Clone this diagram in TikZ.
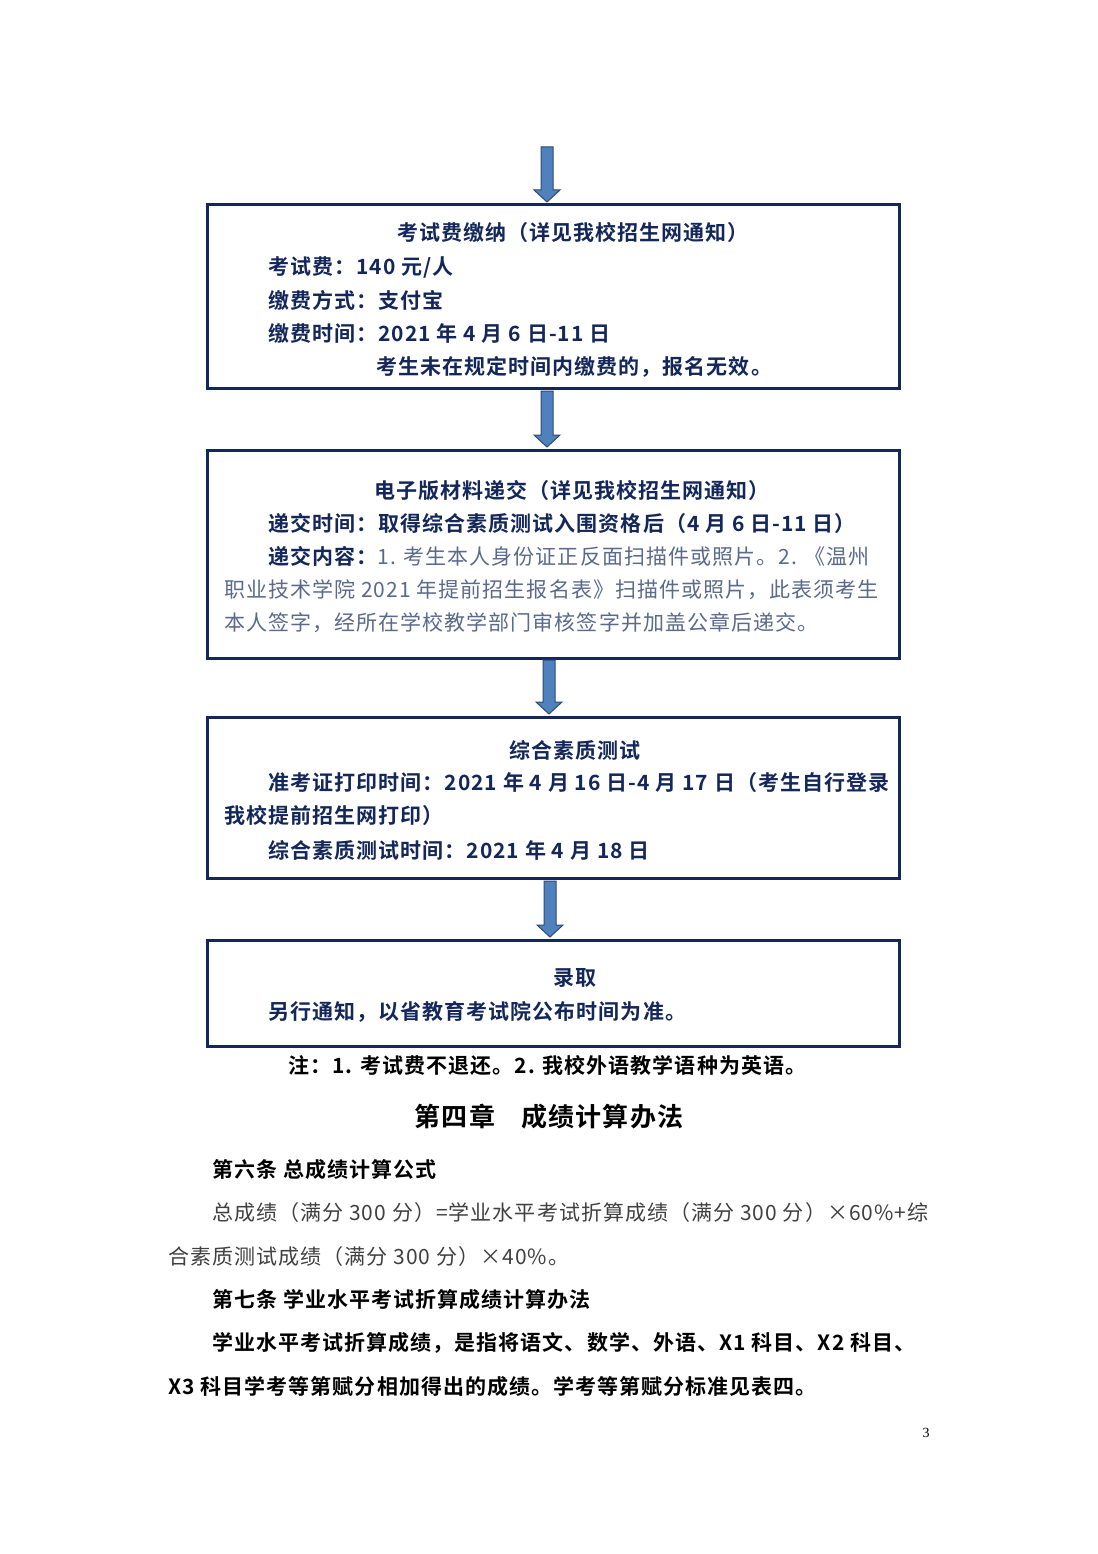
\documentclass[tikz,border=0pt]{standalone}
\usepackage{fontspec}
\setmainfont{Liberation Serif}
\newfontfamily\cjk[LetterSpace=5]{Noto Sans CJK SC}
\newfontfamily\cjkb[LetterSpace=5]{Noto Sans CJK SC Bold}
\usetikzlibrary{calc}
\definecolor{navy}{HTML}{14275A}
\definecolor{grayblue}{HTML}{5A6A8A}
\definecolor{arrfill}{HTML}{4F81BD}
\definecolor{arrline}{HTML}{2E4A75}
\begin{document}
\begin{tikzpicture}[x=1pt,y=-1pt,
  box/.style={draw=navy,line width=3pt,minimum width=692pt,inner sep=0pt},
  bt/.style={font=\fontsize{21}{24}\selectfont\cjkb,text=navy,inner sep=0pt},
  gt/.style={font=\fontsize{21}{24}\selectfont\cjk,text=grayblue,inner sep=0pt},
  tb/.style={font=\fontsize{21}{24}\selectfont\cjkb,text=black,inner sep=0pt},
  tg/.style={font=\fontsize{21}{24}\selectfont\cjk,text=black!75,inner sep=0pt},
  fat/.style={fill=arrfill,draw=arrline,line width=1pt}]
\useasboundingbox[fill=white] (0,0) rectangle (1097,1554);
\node[box,minimum height=183pt] (b1) at (553,296.5) {};
\node[box,minimum height=208pt] (b2) at (553,554) {};
\node[box,minimum height=161pt] (b3) at (553,797.5) {};
\node[box,minimum height=106pt] (b4) at (553,993) {};
\coordinate (top) at (547,147);
\newcommand\fatarrow[2]{\path[fat] ($(#1)+(-6,0)$) -- ($(#2)+(-6,-12)$) -- ($(#2)+(-13,-12)$) -- (#2) -- ($(#2)+(13,-12)$) -- ($(#2)+(6,-12)$) -- ($(#1)+(6,0)$) -- cycle;}
\coordinate (a1e) at (547,202);
\coordinate (a2s) at (547,391); \coordinate (a2e) at (547,447);
\coordinate (a3s) at (549,660); \coordinate (a3e) at (549,714);
\coordinate (a4s) at (550,881); \coordinate (a4e) at (550,937);
\fatarrow{top}{a1e}
\fatarrow{a2s}{a2e}
\fatarrow{a3s}{a3e}
\fatarrow{a4s}{a4e}
% box 1
\node[bt] (t11) at (573,233) {考试费缴纳（详见我校招生网通知）};
\node[bt,anchor=west] (t12) at (268,267) {考试费：140 元/人};
\node[bt,anchor=west] (t13) at (268,300) {缴费方式：支付宝};
\node[bt,anchor=west] (t14) at (268,333) {缴费时间：2021 年 4 月 6 日-11 日};
\node[bt,anchor=west] (t15) at (376,367) {考生未在规定时间内缴费的，报名无效。};
% box 2
\node[bt] (t21) at (572,490) {电子版材料递交（详见我校招生网通知）};
\node[bt,anchor=west] (t22) at (268,523) {递交时间：取得综合素质测试入围资格后（4 月 6 日-11 日）};
\node[anchor=west,inner sep=0pt] (t23) at (268,556) {\textcolor{navy}{\fontsize{21}{24}\selectfont\cjkb 递交内容：}{\fontsize{21}{24}\selectfont\cjk\color{grayblue}1. 考生本人身份证正反面扫描件或照片。2. 《温州}};
\node[gt,anchor=west] (t24) at (224,590) {职业技术学院 2021 年提前招生报名表》扫描件或照片，此表须考生};
\node[gt,anchor=west] (t25) at (224,623) {本人签字，经所在学校教学部门审核签字并加盖公章后递交。};
% box 3
\node[bt] (t31) at (575,750) {综合素质测试};
\node[bt,anchor=west] (t32) at (268,783) {准考证打印时间：2021 年 4 月 16 日-4 月 17 日（考生自行登录};
\node[bt,anchor=west] (t33) at (224,816) {我校提前招生网打印）};
\node[bt,anchor=west] (t34) at (268,850) {综合素质测试时间：2021 年 4 月 18 日};
% box 4
\node[bt] (t41) at (575,978) {录取};
\node[bt,anchor=west] (t42) at (268,1012) {另行通知，以省教育考试院公布时间为准。};
% below
\node[tb,anchor=west] (n1) at (288,1065) {注：1. 考试费不退还。2. 我校外语教学语种为英语。};
\node[font=\fontsize{26}{30}\selectfont\cjkb,inner sep=0pt] (h) at (549,1117) {第四章\quad 成绩计算办法};
\node[tb,anchor=west] (p1) at (212,1170) {第六条\ 总成绩计算公式};
\node[tg,anchor=west] (p2) at (212,1213) {总成绩（满分 300 分）=学业水平考试折算成绩（满分 300 分）×60\%+综};
\node[tg,anchor=west] (p3) at (168,1257) {合素质测试成绩（满分 300 分）×40\%。};
\node[tb,anchor=west] (p4) at (212,1300) {第七条\ 学业水平考试折算成绩计算办法};
\node[tb,anchor=west] (p5) at (212,1343) {学业水平考试折算成绩，是指将语文、数学、外语、X1 科目、X2 科目、};
\node[tb,anchor=west] (p6) at (168,1387) {X3 科目学考等第赋分相加得出的成绩。学考等第赋分标准见表四。};
\node[font=\fontsize{14}{16}\selectfont,inner sep=0pt] (pg) at (926,1433) {3};
\end{tikzpicture}
\end{document}
